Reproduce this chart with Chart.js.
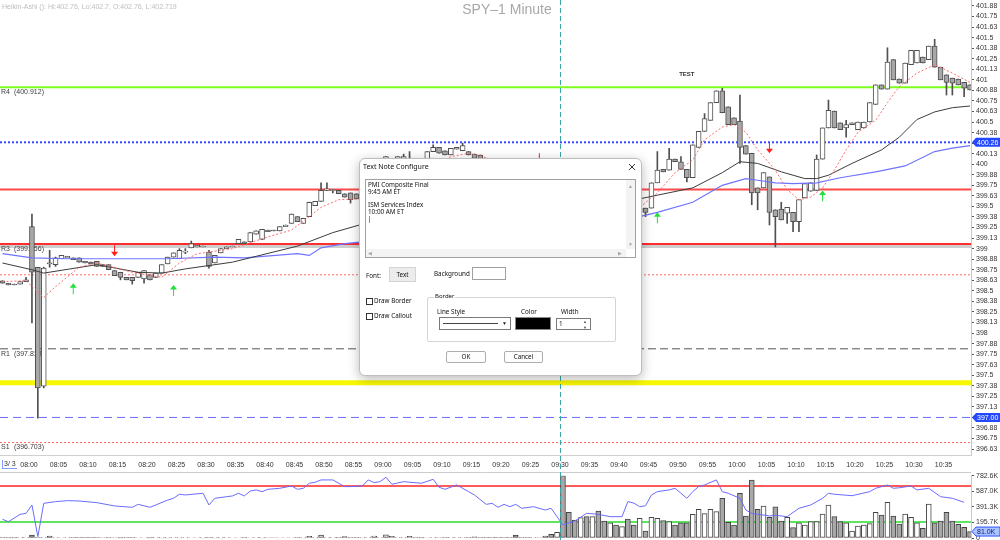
<!DOCTYPE html>
<html>
<head>
<meta charset="utf-8">
<script src="https://cdn.jsdelivr.net/npm/chart.js@4.4.0/dist/chart.umd.min.js"></script>
<style>
  body { margin: 0; width: 1000px; height: 540px; overflow: hidden; background: #fff; position: relative;
         font-family: "Liberation Sans", Arial, sans-serif; }
  canvas { position: absolute; left: 0; }
  #main { top: 0; }
  #lower { top: 472px; }
  #hdr { position: absolute; left: 2px; top: 3px; font-size: 7px; color: #bdbdbd; white-space: nowrap; }
  #ttl { position: absolute; left: 407px; width: 200px; text-align: center; top: 1px; font-size: 14px; color: #a8a8a8; white-space: nowrap; }
  #page { position: absolute; left: 2px; top: 460px; font-size: 7px; color: #333; padding: 0 1px;
          border-left: 1px solid #7f9cff; border-bottom: 1px solid #7f9cff; line-height: 8px; }
  #dlg { position: absolute; left: 359px; top: 158px; width: 281px; height: 216px; background: #fff;
         border: 1px solid #bdbdbd; border-radius: 6px; box-shadow: 0 3px 12px rgba(0,0,0,.28);
         font-family: "Noto Sans", "Open Sans", sans-serif; font-size: 6.3px; color: #111; }
  #dlg div { position: absolute; white-space: nowrap; line-height: 9px; }
  #dlg .box { border: 1px solid #a0a0a0; background: #fff; }
  #memo { left: 5px; top: 20px; width: 269px; height: 77px; }
  #memo .txt { left: 2px; top: 2px; font-size: 6.3px; line-height: 6.8px !important; }
  #memo .vs { right: 0; top: 0; width: 9px; height: 69px; background: #f3f3f3; }
  #memo .hs { left: 0; bottom: 0; width: 260px; height: 8px; background: #f3f3f3; }
  #memo .ar { color: #a8a8a8; font-size: 5px; }
  .btn { border: 1px solid #adadad; background: #fdfdfd; text-align: center; border-radius: 2px; }
  .chk { width: 5px; height: 5px; border: 1px solid #333; background: #fff; }
</style>
</head>
<body>
<canvas id="main" width="1000" height="472"></canvas>
<canvas id="lower" width="1000" height="68"></canvas>
<div id="hdr">Heikin-Ashi (): Hi:402.76, Lo:402.7, O:402.76, L:402.719</div>
<div id="ttl">SPY–1 Minute</div>
<div id="page">3/ 3</div>

<div id="dlg">
  <div style="left:3px;top:3px;font-size:7px">Text Note Configure</div>
  <div style="left:268px;top:4px">
    <svg width="8" height="8"><path d="M1 1L7 7M7 1L1 7" stroke="#333" stroke-width="1"/></svg>
  </div>
  <div id="memo" class="box">
    <div class="txt">PMI Composite Final<br>9:45 AM ET<br><br>ISM Services Index<br>10:00 AM ET<br>|</div>
    <div class="vs"><div class="ar" style="left:2px;top:2px">▲</div><div class="ar" style="left:2px;top:60px">▼</div></div>
    <div class="hs"><div class="ar" style="left:2px;top:0">◀</div><div class="ar" style="left:252px;top:0">▶</div></div>
  </div>
  <div style="left:6px;top:112px">Font:</div>
  <div style="left:29px;top:108px;width:25px;height:13px;background:#ececec;border:1px solid #d4d4d4;text-align:center;line-height:13px">Text</div>
  <div style="left:74px;top:110px">Background</div>
  <div class="box" style="left:112px;top:108px;width:32px;height:11px"></div>
  <div class="chk" style="left:6px;top:139px"></div>
  <div style="left:14px;top:137px">Draw Border</div>
  <div class="chk" style="left:6px;top:154px"></div>
  <div style="left:14px;top:152px">Draw Callout</div>
  <div style="left:67px;top:138px;width:187px;height:43px;border:1px solid #d5d5d5;border-radius:2px"></div>
  <div style="left:74px;top:133px;background:#fff;padding:0 1px;font-size:6px">Border</div>
  <div style="left:77px;top:148px">Line Style</div>
  <div style="left:161px;top:148px">Color</div>
  <div style="left:201px;top:148px">Width</div>
  <div class="box" style="left:79px;top:158px;width:70px;height:11px;border-color:#7a7a7a">
    <div style="left:3px;top:5px;width:55px;height:0;border-top:1px solid #444"></div>
    <div style="left:62px;top:1px;font-size:5px;color:#222">▼</div>
  </div>
  <div style="left:155px;top:158px;width:34px;height:11px;background:#000;border:1px solid #888"></div>
  <div class="box" style="left:196px;top:159px;width:33px;height:10px;border-color:#7a7a7a">
    <div style="left:2px;top:0">1</div>
    <div style="left:26px;top:-2px;font-size:4px;color:#555">▲</div>
    <div style="left:26px;top:4px;font-size:4px;color:#555">▼</div>
  </div>
  <div class="btn" style="left:86px;top:192px;width:38px;height:10px;line-height:10px">OK</div>
  <div class="btn" style="left:144px;top:192px;width:37px;height:10px;line-height:10px">Cancel</div>
</div>

<script>
// bars are 1 minute, counted from 08:00 (first bar = 07:55)
const firstBar = -5;

const barOpen = [
  398.62, 398.59, 398.58, 398.58, 398.61, 399.26, 398.78, 397.37, 398.83, 398.81,
  398.88, 398.89, 398.89, 398.89, 398.85, 398.84, 398.85, 398.81, 398.81, 398.74,
  398.72, 398.66, 398.66, 398.66, 398.64, 398.69, 398.66, 398.71, 398.82, 398.90,
  398.88, 398.96, 399.01, 399.02, 399.02, 398.96, 398.83, 398.95, 399.00, 399.02,
  399.06, 399.08, 399.08, 399.17, 399.11, 399.22, 399.22, 399.21, 399.26, 399.30,
  399.38, 399.30, 399.38, 399.51, 399.56, 399.69, 399.69, 399.69, 399.65, 399.66,
  399.65, 399.60, 399.66, 399.74, 399.86, 400.03, 400.05, 400.05, 400.05, 400.06,
  400.07, 400.03, 400.05, 400.15, 400.20, 400.16, 400.11, 400.18, 400.16, 400.15,
  400.12, 400.11, 400.05, 400.01, 399.98, 399.93, 399.88, 399.84, 399.79, 399.77,
  399.72, 399.73, 399.69, 399.66, 399.64, 399.72, 399.69, 399.64, 399.58, 399.60,
  399.55, 399.58, 399.53, 399.51, 399.52, 399.48, 399.51, 399.47, 399.43, 399.48,
  399.48, 399.78, 399.94, 399.93, 400.06, 400.03, 399.94, 399.84, 400.20, 400.39,
  400.52, 400.73, 400.87, 400.68, 400.55, 400.51, 400.22, 400.13, 399.72, 399.72,
  399.85, 399.46, 399.47, 399.42, 399.43, 399.32, 399.60, 399.68, 399.69, 400.06,
  400.43, 400.63, 400.49, 400.43, 400.47, 400.41, 400.43, 400.50, 400.71, 400.94,
  400.89, 401.24, 401.01, 400.96, 401.18, 401.20, 401.27, 401.24, 401.40, 401.15,
  401.06, 401.02, 401.01, 400.97, 400.94
];
const barClose = [
  398.59, 398.57, 398.57, 398.61, 398.63, 398.72, 397.35, 398.77, 398.82, 398.89,
  398.92, 398.91, 398.87, 398.84, 398.83, 398.82, 398.79, 398.79, 398.75, 398.68,
  398.66, 398.63, 398.62, 398.72, 398.74, 398.63, 398.71, 398.81, 398.90, 398.95,
  398.98, 398.97, 399.06, 399.04, 399.03, 398.79, 398.92, 399.00, 399.02, 399.03,
  399.11, 399.06, 399.19, 399.21, 399.23, 399.20, 399.21, 399.26, 399.28, 399.41,
  399.32, 399.36, 399.55, 399.56, 399.69, 399.71, 399.70, 399.65, 399.61, 399.58,
  399.59, 399.67, 399.75, 399.87, 400.01, 400.09, 400.07, 400.09, 400.09, 400.07,
  400.05, 400.01, 400.15, 400.20, 400.13, 400.11, 400.19, 400.20, 400.22, 400.11,
  400.07, 400.05, 399.99, 399.96, 399.91, 399.86, 399.81, 399.77, 399.74, 399.69,
  399.74, 399.67, 399.64, 399.62, 399.69, 399.66, 399.60, 399.55, 399.62, 399.53,
  399.60, 399.51, 399.48, 399.54, 399.46, 399.52, 399.45, 399.41, 399.48, 399.43,
  399.78, 399.93, 399.91, 400.06, 400.03, 399.94, 399.84, 400.23, 400.39, 400.54,
  400.73, 400.87, 400.61, 400.47, 400.47, 400.20, 400.12, 399.66, 399.66, 399.90,
  399.43, 399.38, 399.34, 399.49, 399.32, 399.58, 399.77, 399.78, 400.06, 400.43,
  400.64, 400.43, 400.41, 400.47, 400.49, 400.50, 400.50, 400.73, 400.94, 400.89,
  401.21, 401.00, 400.96, 401.20, 401.35, 401.35, 401.20, 401.40, 401.15, 401.00,
  400.97, 400.96, 400.94, 400.90, 400.88
];
const barHigh = [
  398.62, 398.59, 398.58, 398.61, 398.66, 399.41, 398.78, 398.78, 398.98, 398.90,
  398.92, 398.91, 398.89, 398.89, 398.85, 398.84, 398.85, 398.81, 398.81, 398.74,
  398.72, 398.66, 398.66, 398.72, 398.74, 398.69, 398.71, 398.81, 398.90, 398.95,
  399.00, 399.00, 399.09, 399.04, 399.03, 398.98, 398.92, 399.00, 399.02, 399.03,
  399.11, 399.08, 399.19, 399.21, 399.23, 399.22, 399.22, 399.26, 399.28, 399.41,
  399.38, 399.36, 399.55, 399.56, 399.78, 399.78, 399.70, 399.69, 399.65, 399.66,
  399.65, 399.67, 399.75, 399.87, 400.01, 400.09, 400.07, 400.09, 400.12, 400.15,
  400.07, 400.03, 400.15, 400.23, 400.20, 400.16, 400.19, 400.20, 400.25, 400.15,
  400.12, 400.11, 400.05, 400.01, 399.98, 399.93, 399.88, 399.84, 399.79, 399.77,
  399.74, 399.73, 399.69, 399.66, 399.69, 399.72, 399.69, 399.64, 399.62, 399.60,
  399.60, 399.58, 399.53, 399.54, 399.52, 399.52, 399.51, 399.47, 399.48, 399.48,
  399.78, 400.15, 399.94, 400.19, 400.06, 400.09, 399.94, 400.23, 400.39, 400.60,
  400.73, 400.87, 400.90, 400.68, 400.55, 400.82, 400.22, 400.13, 399.72, 399.90,
  399.85, 399.46, 399.55, 399.49, 399.43, 399.58, 399.77, 399.78, 400.11, 400.43,
  400.76, 400.63, 400.49, 400.52, 400.49, 400.50, 400.50, 400.73, 400.94, 400.94,
  401.38, 401.24, 401.01, 401.20, 401.35, 401.35, 401.27, 401.40, 401.48, 401.15,
  401.06, 401.02, 401.01, 400.97, 400.94
];
const barLow = [
  398.59, 398.57, 398.57, 398.58, 398.61, 398.12, 396.99, 397.35, 398.78, 398.79,
  398.88, 398.89, 398.87, 398.84, 398.83, 398.82, 398.79, 398.79, 398.75, 398.68,
  398.63, 398.63, 398.58, 398.66, 398.59, 398.63, 398.66, 398.71, 398.82, 398.90,
  398.88, 398.94, 399.01, 399.02, 399.02, 398.77, 398.83, 398.95, 399.00, 399.02,
  399.06, 399.06, 399.08, 399.17, 399.11, 399.20, 399.21, 399.21, 399.26, 399.30,
  399.32, 399.30, 399.38, 399.51, 399.56, 399.69, 399.66, 399.65, 399.61, 399.54,
  399.59, 399.60, 399.66, 399.74, 399.86, 400.03, 400.05, 400.05, 400.05, 400.06,
  400.05, 400.01, 400.05, 400.15, 400.13, 400.11, 400.11, 400.18, 400.16, 400.11,
  400.07, 400.05, 399.99, 399.96, 399.91, 399.86, 399.81, 399.77, 399.74, 399.69,
  399.72, 399.67, 399.64, 399.62, 399.64, 399.66, 399.60, 399.55, 399.58, 399.53,
  399.55, 399.51, 399.48, 399.51, 399.46, 399.48, 399.45, 399.41, 399.43, 399.38,
  399.48, 399.78, 399.91, 399.93, 400.03, 399.94, 399.79, 399.84, 400.20, 400.39,
  400.52, 400.73, 400.61, 400.47, 400.47, 400.01, 400.12, 399.52, 399.46, 399.72,
  399.28, 399.02, 399.34, 399.30, 399.20, 399.20, 399.60, 399.68, 399.69, 400.06,
  400.43, 400.43, 400.41, 400.32, 400.47, 400.41, 400.43, 400.50, 400.71, 400.89,
  400.89, 401.00, 400.96, 400.96, 401.18, 401.20, 401.20, 401.24, 401.15, 401.00,
  400.82, 400.82, 400.94, 400.80, 400.88
];
// volume in thousands
const barVolume = [
  3, 2, 2, 3, 8, 38, 10, 8, 25, 8,
  6, 4, 8, 10, 4, 8, 10, 6, 3, 6,
  2, 5, 3, 6, 6, 2, 3, 2, 2, 5,
  2, 8, 6, 6, 2, 4, 2, 2, 3, 6,
  6, 10, 6, 3, 2, 6, 6, 6, 6, 6,
  3, 2, 20, 2, 38, 8, 8, 10, 18, 8,
  8, 2, 8, 25, 8, 40, 20, 8, 8, 20,
  8, 2, 6, 8, 6, 3, 8, 8, 10, 10,
  15, 10, 8, 8, 3, 4, 8, 38, 5, 4,
  4, 6, 25, 46, 72, 782.6, 323, 226, 255, 268,
  268, 339, 214, 192, 163, 142, 239, 163, 247, 88,
  260, 247, 218, 205, 163, 192, 192, 297, 360, 306,
  360, 331, 498, 197, 163, 561, 276, 728, 360, 402,
  260, 393, 214, 260, 130, 192, 163, 205, 205, 301,
  414, 268, 205, 192, 88, 150, 163, 180, 323, 289,
  448, 276, 176, 301, 260, 192, 121, 427, 192, 214,
  323, 214, 172, 134, 81
];

// moving averages, read at the bars where they bend
const fastBars = [-5, -1, 2, 4, 8, 11, 17, 22, 25, 28, 34, 40, 44, 47, 49, 52, 56, 62, 69, 71,
  74, 76, 78, 83, 90, 96, 103, 106, 109, 112, 114, 117, 119, 121, 123, 126, 128, 130, 132, 134,
  136, 138, 140, 143, 145, 147, 150, 153, 156, 159];
const fastValues = [398.61, 398.62, 398.42, 398.55, 398.78, 398.83, 398.72, 398.66, 398.83, 398.94,
  399.00, 399.14, 399.22, 399.38, 399.49, 399.58, 399.59, 399.79, 400.03, 400.09,
  400.13, 400.10, 400.05, 399.96, 399.81, 399.67, 399.49, 399.66, 399.90, 400.05,
  400.29, 400.44, 400.47, 400.38, 400.17, 399.93, 399.70, 399.58, 399.61, 399.72,
  399.93, 400.17, 400.38, 400.52, 400.73, 400.92, 401.08, 401.18, 401.08, 400.97];
const smaBars = [-5, 0, 2, 11, 18, 22, 26, 34, 45, 51, 56, 66, 76, 86, 96, 103, 112, 117, 120, 123,
  127, 131, 133, 135, 139, 144, 147, 150, 153, 156, 159];
const smaValues = [398.83, 398.75, 398.71, 398.81, 398.72, 398.71, 398.76, 398.84, 399.03, 399.19,
  399.29, 399.46, 399.58, 399.62, 399.61, 399.59, 399.72, 399.90, 400.03, 400.01,
  399.91, 399.83, 399.83, 399.87, 400.01, 400.17, 400.32, 400.53, 400.62, 400.67, 400.69];
const slowBars = [-5, 0, 6, 14, 23, 31, 36, 45, 47, 49, 53, 56, 66, 76, 86, 96, 103, 106, 112, 117,
  121, 123, 126, 129, 133, 137, 143, 148, 153, 156, 159];
const slowValues = [398.94, 398.89, 398.88, 398.88, 398.88, 398.90, 398.89, 398.94, 398.92, 399.01,
  399.06, 399.08, 399.20, 399.28, 399.34, 399.36, 399.38, 399.43, 399.55, 399.75,
  399.83, 399.81, 399.78, 399.77, 399.78, 399.84, 399.91, 399.98, 400.15, 400.19, 400.22];

// lower pane oscillator
const oscBars = [-5, -4, -2, -1, 0, 1, 2, 4, 6, 8, 11, 14, 17, 18, 20, 21, 23, 24, 25, 26,
  29, 30, 31, 33, 34, 35, 36, 37, 38, 39, 40, 42, 44, 45, 46, 47, 48, 49, 51, 53,
  54, 56, 57, 58, 59, 60, 61, 63, 66, 68, 69, 70, 72, 74, 75, 77, 78, 79, 80, 81,
  82, 83, 85, 87, 88, 89, 90, 91, 92, 94, 96, 98, 100, 101, 102, 103, 104, 105, 106, 108,
  109, 110, 111, 112, 113, 114, 116, 117, 118, 120, 121, 122, 125, 126, 128, 130, 132, 134, 135, 136,
  139, 142, 143, 145, 146, 147, 149, 150, 152, 154, 156, 158];
const oscValues = [33, 30.3, 38.5, 39.6, 48.9, 13.7, 50.7, 52.6, 53.7, 53.3, 51.5, 47.8, 46.3, 49.6, 46.3, 48.9, 54.4, 56.3, 60.8, 60,
  61.9, 48.9, 56.3, 58.1, 58.9, 61.9, 58.9, 64.4, 65.6, 63.7, 66.3, 67.4, 70, 66.3, 67.4, 73, 74.1, 76.7, 76.7, 69.3,
  69.3, 70, 76.7, 73.7, 74.8, 79.7, 71.9, 74.8, 73, 77.4, 68.6, 66.3, 71.1, 63.7, 60, 49.6, 50.7, 46.3, 49.6, 47,
  49.6, 45.2, 47, 43.3, 45.2, 35.9, 26.7, 29, 31, 39.6, 38.5, 35.9, 35.9, 52.6, 51, 47, 48, 60, 63.7, 65.6,
  67.4, 61.9, 56.3, 63.7, 69.3, 71.1, 76.7, 63.7, 61.9, 56.3, 43.3, 39.6, 36.7, 37.5, 35.9, 45.2, 48.9, 56.3, 61.9, 60.8,
  59.2, 63.7, 67.4, 71.1, 67.4, 68, 70, 65.6, 67.4, 58.1, 56.3, 51.9];
const oscLevels = [70, 30];

// horizontal price levels (pivots and marks)
const levelPrices = [400.912, 400.26, 399.70, 399.056, 398.69, 397.813, 397.41, 397.00, 396.703];
const levelNames = ['R4', '', '', 'R3', '', 'R1', '', '', 'S1'];
const axisMarks = [400.26, 397.00];

// signal arrows
const upArrowBars = [7, 24, 106, 134];
const upArrowPrices = [398.59, 398.57, 399.43, 399.69];
const downArrowBars = [14, 86, 125];
const downArrowPrices = [398.91, 400.00, 400.13];

const noteText = 'TEST';
const noteMinute = 111.5;
const notePrice = 401.07;
const sessionOpen = 90; // 09:30

const xTickLabels = ['08:00', '08:05', '08:10', '08:15', '08:20', '08:25', '08:30', '08:35', '08:40', '08:45',
  '08:50', '08:55', '09:00', '09:05', '09:10', '09:15', '09:20', '09:25', '09:30', '09:35',
  '09:40', '09:45', '09:50', '09:55', '10:00', '10:05', '10:10', '10:15', '10:20', '10:25', '10:30', '10:35'];
const priceTicks = [396.625, 396.75, 396.875, 397, 397.125, 397.25, 397.375, 397.5, 397.625, 397.75,
  397.875, 398, 398.125, 398.25, 398.375, 398.5, 398.625, 398.75, 398.875, 399,
  399.125, 399.25, 399.375, 399.5, 399.625, 399.75, 399.875, 400, 400.125, 400.25,
  400.375, 400.5, 400.625, 400.75, 400.875, 401, 401.125, 401.25, 401.375, 401.5,
  401.625, 401.75, 401.875];
const volTicks = [0, 195.7, 391.3, 587.0, 782.6];

// view window
const xMin = -4.915, xMax = 159.66;
const priceMin = 396.555, priceMax = 401.946;

Chart.defaults.font.family = '"Liberation Sans", Arial, sans-serif';

const levelStyles = [
  { color: '#7dff1e', width: 2 },
  { color: '#3347ff', width: 2, dash: [2, 2] },
  { color: '#ff4a4a', width: 2 },
  { color: '#ff2e2e', width: 2, under: '#cfcfcf' },
  { color: '#ff6a6a', width: 1, dash: [2, 2] },
  { color: '#555555', width: 1, dash: [8, 4] },
  { color: '#f7f700', width: 5 },
  { color: '#6b6bff', width: 1, dash: [8, 5] },
  { color: '#ff6a6a', width: 1, dash: [2, 2] }
];

const mid = i => firstBar + i + 0.5;
const pts = (bars, vals) => bars.map((b, i) => ({ x: b + 0.5, y: vals[i] }));

const bodies = barOpen.map((o, i) => {
  let lo = Math.min(o, barClose[i]), hi = Math.max(o, barClose[i]);
  if (hi - lo < 0.012) { const m = (hi + lo) / 2; lo = m - 0.006; hi = m + 0.006; }
  return { x: mid(i), y: [lo, hi] };
});
const wicks = barOpen.map((o, i) => ({ x: mid(i), y: [barLow[i], barHigh[i]] }));
const upBar = barOpen.map((o, i) => barClose[i] >= o);
const bodyColors = upBar.map(u => u ? '#ffffff' : '#a8a8a8');

function hline(ctx, x0, x1, y) {
  ctx.beginPath(); ctx.moveTo(x0, y); ctx.lineTo(x1, y); ctx.stroke();
}

function arrow(ctx, x, tip, up, color) {
  const s = up ? 1 : -1;
  ctx.strokeStyle = color; ctx.fillStyle = color; ctx.lineWidth = 1; ctx.setLineDash([]);
  ctx.beginPath(); ctx.moveTo(x, tip + s * 4); ctx.lineTo(x, tip + s * 11); ctx.stroke();
  ctx.beginPath(); ctx.moveTo(x, tip); ctx.lineTo(x - 3.5, tip + s * 4.5); ctx.lineTo(x + 3.5, tip + s * 4.5);
  ctx.closePath(); ctx.fill();
}

function axisBox(ctx, x0, y, text, fill, stroke, color) {
  ctx.beginPath();
  ctx.moveTo(x0, y); ctx.lineTo(x0 + 4, y - 4.5); ctx.lineTo(1000, y - 4.5); ctx.lineTo(1000, y + 4.5); ctx.lineTo(x0 + 4, y + 4.5);
  ctx.closePath();
  ctx.fillStyle = fill; ctx.fill();
  if (stroke) { ctx.strokeStyle = stroke; ctx.lineWidth = 1; ctx.setLineDash([]); ctx.stroke(); }
  ctx.fillStyle = color; ctx.font = '7px "Liberation Sans", Arial, sans-serif';
  ctx.textAlign = 'left'; ctx.textBaseline = 'middle';
  ctx.fillText(text, x0 + 5, y + 0.5);
}

const mainOverlay = {
  id: 'mainOverlay',
  beforeDatasetsDraw(chart) {
    const { ctx, chartArea: a, scales: { y } } = chart;
    ctx.save();
    ctx.beginPath(); ctx.rect(a.left, a.top, a.right - a.left, a.bottom - a.top); ctx.clip();
    levelPrices.forEach((p, i) => {
      const st = levelStyles[i];
      const py = y.getPixelForValue(p);
      if (st.under) { ctx.strokeStyle = st.under; ctx.lineWidth = 3; ctx.setLineDash([]); hline(ctx, a.left, a.right, py + 2.5); }
      ctx.strokeStyle = st.color; ctx.lineWidth = st.width; ctx.setLineDash(st.dash || []);
      hline(ctx, a.left, a.right, py);
      if (levelNames[i]) {
        ctx.fillStyle = '#3c3c3c'; ctx.font = '7px "Liberation Sans", Arial, sans-serif';
        ctx.textAlign = 'left'; ctx.textBaseline = 'middle';
        ctx.fillText(levelNames[i], 1, py + 5);
        ctx.fillText('(' + p.toFixed(3) + ')', 14, py + 5);
      }
    });
    ctx.restore();
  },
  afterDatasetsDraw(chart) {
    const { ctx, chartArea: a, scales: { x, y } } = chart;
    ctx.save();
    ctx.beginPath(); ctx.rect(a.left, a.top, a.right - a.left, a.bottom - a.top); ctx.clip();
    upArrowBars.forEach((b, i) => arrow(ctx, x.getPixelForValue(b + 0.5), y.getPixelForValue(upArrowPrices[i]), true, '#22e03c'));
    downArrowBars.forEach((b, i) => arrow(ctx, x.getPixelForValue(b + 0.5), y.getPixelForValue(downArrowPrices[i]), false, '#ff1e1e'));
    ctx.fillStyle = '#333'; ctx.font = 'bold 6px "Liberation Sans", Arial, sans-serif';
    ctx.textAlign = 'center'; ctx.textBaseline = 'middle';
    ctx.fillText(noteText, x.getPixelForValue(noteMinute), y.getPixelForValue(notePrice));
    ctx.restore();
    ctx.save();
    const vx = Math.round(x.getPixelForValue(sessionOpen)) + 0.5;
    ctx.strokeStyle = '#3aa6a6'; ctx.lineWidth = 1; ctx.setLineDash([5, 3]);
    ctx.beginPath(); ctx.moveTo(vx, 0); ctx.lineTo(vx, chart.height); ctx.stroke();
    ctx.restore();
  },
  afterDraw(chart) {
    const { ctx, chartArea: a, scales: { y } } = chart;
    ctx.save();
    axisMarks.forEach(p => axisBox(ctx, a.right + 1, y.getPixelForValue(p), p.toFixed(2), '#2448ff', null, '#ffffff'));
    ctx.restore();
  }
};

new Chart(document.getElementById('main'), {
  type: 'bar',
  data: {
    datasets: [
      { type: 'line', data: pts(fastBars, fastValues), borderColor: '#ff6b6b', borderWidth: 1, borderDash: [2, 2],
        pointRadius: 0, tension: 0, order: 1 },
      { type: 'line', data: pts(smaBars, smaValues), borderColor: '#3c3c3c', borderWidth: 1,
        pointRadius: 0, tension: 0, order: 1 },
      { type: 'line', data: pts(slowBars, slowValues), borderColor: '#6f74ff', borderWidth: 1.2,
        pointRadius: 0, tension: 0, order: 1 },
      { type: 'bar', data: wicks, backgroundColor: '#505050', borderWidth: 0, barThickness: 1,
        grouped: false, order: 3 },
      { type: 'bar', data: bodies, backgroundColor: bodyColors, borderColor: '#4f4f4f', borderWidth: 1,
        borderSkipped: false, barThickness: 5, grouped: false, order: 2 }
    ]
  },
  options: {
    responsive: false,
    animation: false,
    events: [],
    layout: { padding: 0 },
    plugins: { legend: { display: false }, tooltip: { enabled: false } },
    scales: {
      x: {
        type: 'linear', min: xMin, max: xMax, offset: false,
        grid: { display: false, drawTicks: false },
        border: { display: true, color: '#d0d0d0' },
        afterBuildTicks: s => { s.ticks = xTickLabels.map((_, i) => ({ value: i * 5 })); },
        ticks: { autoSkip: false, maxRotation: 0, padding: 6, color: '#333', font: { size: 7 },
                 callback: (v, i) => xTickLabels[i] },
        afterFit: s => { s.height = 17; s.paddingLeft = 0; s.paddingRight = 0; }
      },
      y: {
        position: 'right', min: priceMin, max: priceMax,
        grid: { drawOnChartArea: false, tickLength: 3, color: '#555' },
        border: { color: '#c8c8c8' },
        afterBuildTicks: s => { s.ticks = priceTicks.map(v => ({ value: v })); },
        ticks: { autoSkip: false, padding: 2, color: '#333', font: { size: 7 },
                 callback: v => String(+v.toFixed(2)) },
        afterFit: s => { s.width = 29; s.paddingTop = 0; s.paddingBottom = 0; }
      }
    }
  },
  plugins: [mainOverlay]
});

const lowerOverlay = {
  id: 'lowerOverlay',
  beforeDatasetsDraw(chart) {
    const { ctx, chartArea: a, scales: { osc } } = chart;
    ctx.save();
    ['#ff5a5a', '#5ee65e'].forEach((c, i) => {
      ctx.strokeStyle = c; ctx.lineWidth = 2; hline(ctx, a.left, a.right, osc.getPixelForValue(oscLevels[i]));
    });
    ctx.restore();
  },
  afterDraw(chart) {
    const { ctx, chartArea: a, scales: { x, vol } } = chart;
    ctx.save();
    ctx.strokeStyle = '#cccccc'; ctx.lineWidth = 1; hline(ctx, 0, a.right, 0.5);
    const vx = Math.round(x.getPixelForValue(sessionOpen)) + 0.5;
    ctx.strokeStyle = '#3aa6a6'; ctx.setLineDash([5, 3]);
    ctx.beginPath(); ctx.moveTo(vx, 0); ctx.lineTo(vx, chart.height); ctx.stroke();
    const last = barVolume[barVolume.length - 1];
    axisBox(ctx, a.right + 1, vol.getPixelForValue(last), last.toFixed(1) + 'K', '#aac4ff', '#3050ff', '#10207a');
    ctx.restore();
  }
};

new Chart(document.getElementById('lower'), {
  type: 'bar',
  data: {
    datasets: [
      { type: 'line', yAxisID: 'osc', data: pts(oscBars, oscValues), borderColor: '#6b6bff', borderWidth: 1,
        pointRadius: 0, tension: 0, order: 1 },
      { type: 'bar', yAxisID: 'vol', data: barVolume.map((v, i) => ({ x: mid(i), y: v })),
        backgroundColor: bodyColors, borderColor: '#444', borderWidth: 1, borderSkipped: false,
        barThickness: 5, grouped: false, order: 2 }
    ]
  },
  options: {
    responsive: false,
    animation: false,
    events: [],
    layout: { padding: { top: 3.7 } },
    plugins: { legend: { display: false }, tooltip: { enabled: false } },
    scales: {
      x: { type: 'linear', min: xMin, max: xMax, offset: false, display: false },
      vol: {
        position: 'right', min: -25.1, max: 782.6,
        grid: { drawOnChartArea: false, tickLength: 3, color: '#555' },
        border: { color: '#c8c8c8' },
        afterBuildTicks: s => { s.ticks = volTicks.map(v => ({ value: v })); },
        ticks: { autoSkip: false, padding: 2, color: '#333', font: { size: 7 },
                 callback: v => v === 0 ? '0' : v.toFixed(1) + 'K' },
        afterFit: s => { s.width = 29; s.paddingTop = 0; s.paddingBottom = 0; }
      },
      osc: { display: false, min: 10, max: 81.4 }
    }
  },
  plugins: [lowerOverlay]
});
</script>
</body>
</html>
